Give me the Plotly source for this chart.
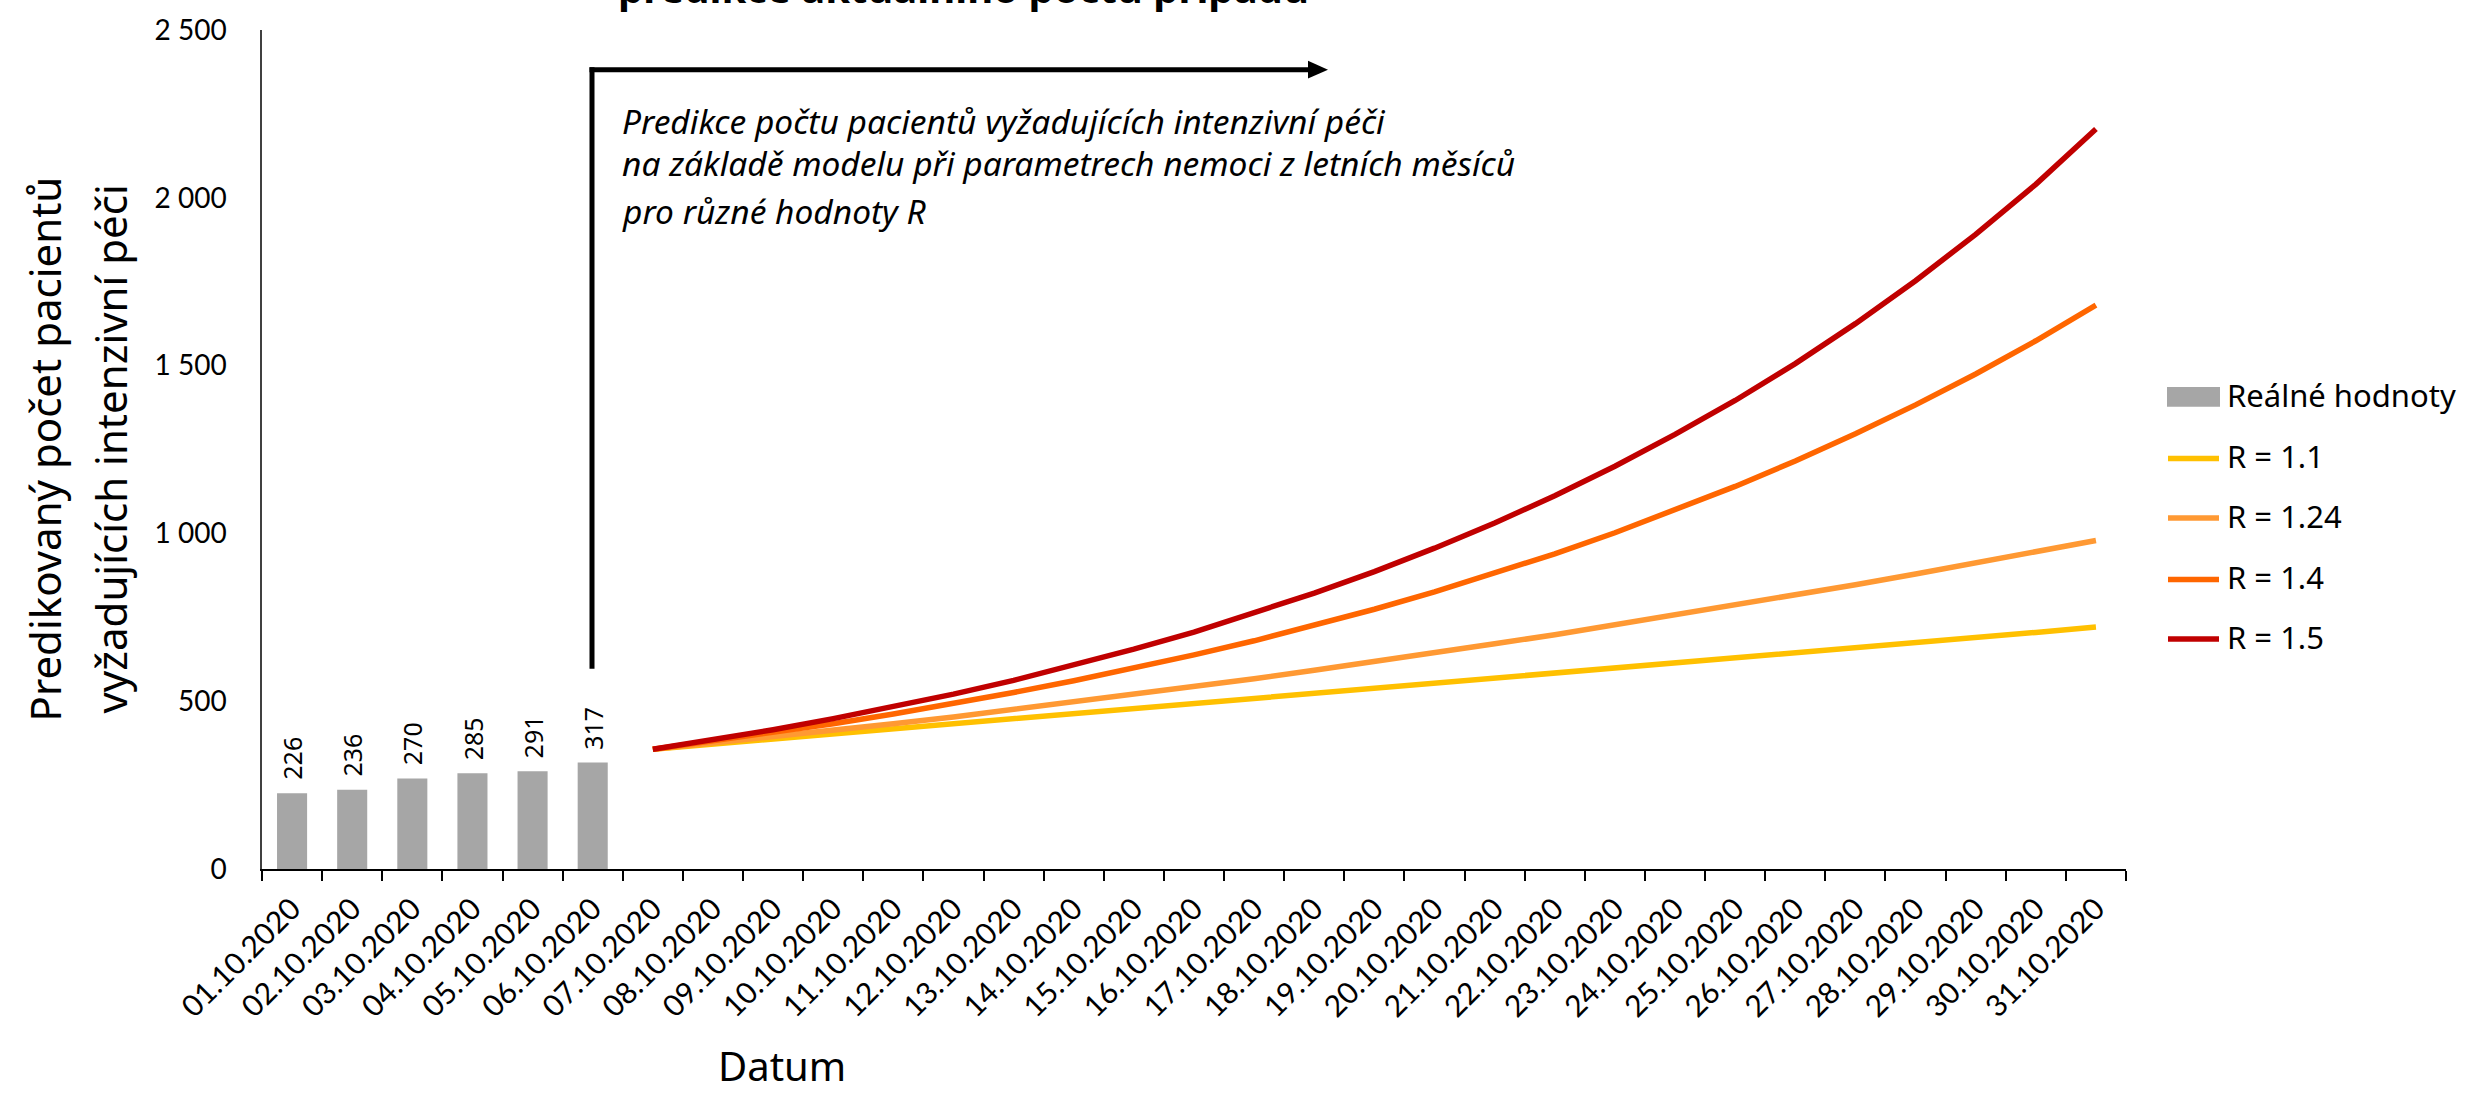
import plotly.graph_objects as go

# ---------------- data ----------------
dates = [f"{d:02d}.10.2020" for d in range(1, 32)]
real_dates = dates[:6]
real_values = [226, 236, 270, 285, 291, 317]
pred_dates = dates[6:]
r_1_1 = [357, 372, 387, 402, 418, 433, 448, 463, 478, 494, 509, 524, 539,
         554, 569, 584, 599, 614, 629, 644, 660, 675, 690, 705, 721]
r_1_24 = [357, 375, 393, 413, 433, 453, 475, 497, 519, 543, 567, 592, 617,
          644, 671, 698, 727, 756, 785, 816, 847, 879, 911, 945, 979]
r_1_4 = [357, 381, 406, 433, 462, 493, 526, 561, 598, 638, 680, 726, 774,
         826, 881, 939, 1002, 1069, 1140, 1216, 1297, 1383, 1475, 1574, 1680]
r_1_5 = [357, 385, 415, 448, 483, 521, 562, 607, 655, 706, 762, 822, 886,
         956, 1031, 1112, 1200, 1295, 1396, 1506, 1625, 1753, 1891, 2040, 2205]
series_names = ["R = 1.1", "R = 1.24", "R = 1.4", "R = 1.5"]
series_values = [r_1_1, r_1_24, r_1_4, r_1_5]
series_colors = ["#FFC000", "#FF9933", "#FF6600", "#C00000"]
bar_name = "Reálné hodnoty"
y_tickvals = [0, 500, 1000, 1500, 2000, 2500]
y_ticktext = ["0", "500", "1 000", "1 500", "2 000", "2 500"]

# ---------------- layout geometry (pixels) ----------------
W, H = 2468, 1093
L, R, T, B = 262, 2126, 23, 869


def px(x):
    return (x - L) / (R - L)


def py(y):
    return (B - y) / (B - T)


fig = go.Figure()
fig.add_trace(go.Bar(x=real_dates, y=real_values, name=bar_name,
                     marker=dict(color="#A6A6A6", line=dict(width=0)),
                     showlegend=False))
for name, vals, col in zip(series_names, series_values, series_colors):
    fig.add_trace(go.Scatter(x=pred_dates, y=vals, name=name, mode="lines",
                             line=dict(color=col, width=5.5),
                             showlegend=False))

annotations = []
# bar value labels
for d, v in zip(real_dates, real_values):
    annotations.append(dict(x=d, y=v, xref="x", yref="y", text=str(v),
                            textangle=-90, showarrow=False, yanchor="bottom",
                            xanchor="center", yshift=11,
                            font=dict(family="Noto Sans", size=25, color="#000000")))

# y axis title (two lines)
annotations.append(dict(x=px(44), y=0.5, xref="paper", yref="paper",
                        text="Predikovaný počet pacientů", textangle=-90,
                        showarrow=False, xanchor="center", yanchor="middle",
                        font=dict(family="Noto Sans", size=42, color="#000000")))
annotations.append(dict(x=px(110), y=0.5, xref="paper", yref="paper",
                        text="vyžadujících intenzivní péči", textangle=-90,
                        showarrow=False, xanchor="center", yanchor="middle",
                        font=dict(family="Noto Sans", size=42, color="#000000")))
# x axis title
annotations.append(dict(x=px(782), y=py(1067), xref="paper", yref="paper",
                        text="Datum", showarrow=False, xanchor="center",
                        yanchor="middle",
                        font=dict(family="Noto Sans", size=40, color="#000000")))
# clipped title line at top
annotations.append(dict(x=px(963), y=py(10), xref="paper", yref="paper",
                        text="<b>predikce aktuálního počtu případů</b>",
                        showarrow=False, xanchor="center", yanchor="bottom",
                        font=dict(family="Noto Sans", size=40, color="#000000")))
# italic description
desc_lines = ["Predikce počtu pacientů vyžadujících intenzivní péči",
              "na základě modelu při parametrech nemoci z letních měsíců",
              "pro různé hodnoty R"]
for txt, yc in zip(desc_lines, [115, 157, 206]):
    annotations.append(dict(x=px(620), y=py(yc), xref="paper", yref="paper",
                            text=f"<i>{txt}</i>", showarrow=False,
                            xanchor="left", yanchor="middle",
                            font=dict(family="Noto Sans", size=33.5, color="#000000")))

# manual legend
legend_labels = [bar_name] + series_names
legend_y = [393, 455, 515, 577, 637]
for lab, yc in zip(legend_labels, legend_y):
    annotations.append(dict(x=px(2225), y=py(yc - 2), xref="paper", yref="paper",
                            text=lab, showarrow=False, xanchor="left",
                            yanchor="middle",
                            font=dict(family="Noto Sans", size=31, color="#000000")))

shapes = []
shapes.append(dict(type="rect", xref="paper", yref="paper",
                   x0=px(2167), x1=px(2220), y0=py(403), y1=py(383),
                   fillcolor="#A6A6A6", line=dict(width=0)))
for col, yc in zip(series_colors, legend_y[1:]):
    shapes.append(dict(type="line", xref="paper", yref="paper",
                       x0=px(2168), x1=px(2219), y0=py(yc), y1=py(yc),
                       line=dict(color=col, width=5.5)))
# arrow
shapes.append(dict(type="line", xref="paper", yref="paper",
                   x0=px(592), x1=px(592), y0=py(667), y1=py(60.5),
                   line=dict(color="#000000", width=5)))
shapes.append(dict(type="line", xref="paper", yref="paper",
                   x0=px(589.5), x1=px(1312), y0=py(63), y1=py(63),
                   line=dict(color="#000000", width=5)))
shapes.append(dict(type="path", xref="paper", yref="paper",
                   path=f"M {px(1308)},{py(54)} L {px(1328)},{py(63)} L {px(1308)},{py(72)} Z",
                   fillcolor="#000000", line=dict(width=0)))

fig.update_layout(
    width=W, height=H,
    margin=dict(l=L, r=W - R, t=T, b=H - B, pad=0),
    paper_bgcolor="white", plot_bgcolor="white",
    bargap=0.5,
    showlegend=False,
    annotations=annotations,
    shapes=shapes,
    font=dict(family="Lato", color="#000000"),
)
fig.update_xaxes(type="category", categoryorder="array", categoryarray=dates,
                 range=[-0.5, 30.5], showline=True, linecolor="#000000",
                 linewidth=2, ticks="outside", ticklen=10, tickwidth=1.5,
                 tickcolor="#000000", tickson="boundaries", tickangle=-45,
                 showgrid=False, zeroline=False, ticklabelstandoff=8,
                 tickfont=dict(family="Lato", size=30, color="#000000"))
fig.update_yaxes(range=[0, 2500], tickvals=y_tickvals, ticktext=y_ticktext,
                 showline=True, linecolor="#404040", linewidth=1.5, ticks="",
                 showgrid=False, zeroline=False, ticklabelstandoff=28,
                 tickfont=dict(family="Lato", size=28, color="#000000"))

fig.write_html(
    "out.html",
    config={"displayModeBar": False},
    post_script="document.body.style.margin='0px';document.body.style.overflow='hidden';",
)
